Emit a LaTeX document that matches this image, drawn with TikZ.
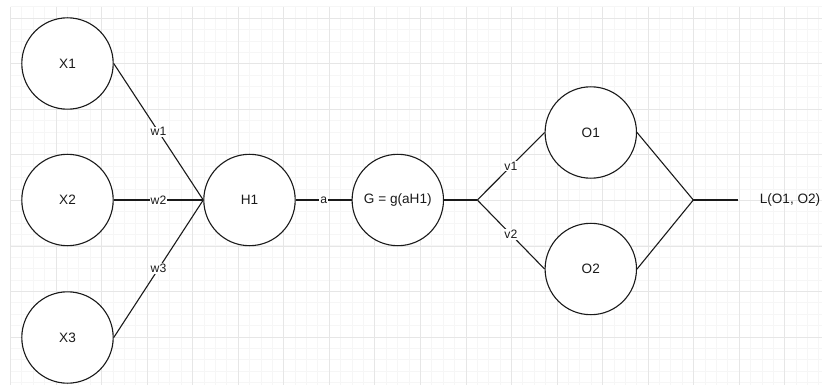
\documentclass[tikz,border=0pt]{standalone}
\usepackage{fontspec}
\setmainfont{Liberation Sans}
\definecolor{gridminor}{HTML}{F6F6F6}
\definecolor{gridmajor}{HTML}{E6E6E6}
\definecolor{ink}{HTML}{1A1A1A}
\tikzset{
  minorline/.style={draw=gridminor, line width=1pt},
  majorline/.style={draw=gridmajor, line width=1pt},
  neuron/.style={circle, draw=ink, fill=white, line width=1.1pt, minimum size=91.4pt, inner sep=0pt,
    text=ink, font=\fontsize{13.6}{16}\selectfont},
  conn/.style={draw=ink, line width=1.1pt},
  lbl/.style={midway, fill=white, inner sep=1pt, text=ink, font=\fontsize{12.2}{14}\selectfont},
  plain/.style={text=ink, inner sep=0pt, font=\fontsize{13.6}{16}\selectfont}
}
\begin{document}
\begin{tikzpicture}[x=1pt,y=-1pt]
\useasboundingbox (0,0) rectangle (822,385);
\fill[white] (0,0) rectangle (822,385);
\begin{scope}
\clip (10,6.5) rectangle (822,385);
\foreach \i in {0,...,71} { \draw[minorline] ({10.6+11.385*\i},6.9) -- ({10.6+11.385*\i},385); }
\foreach \j in {0,...,33} { \draw[minorline] (10.6,{6.9+11.385*\j}) -- (822,{6.9+11.385*\j}); }
\foreach \i in {0,...,17} { \draw[majorline] ({10.6+45.54*\i},6.9) -- ({10.6+45.54*\i},385); }
\foreach \j in {0,...,7} { \draw[majorline] (10.6,{18.3+45.54*\j}) -- (822,{18.3+45.54*\j}); }
\end{scope}

\node[neuron] (x1) at (67.5,63.5) {X1};
\node[neuron] (x2) at (67.5,200) {X2};
\node[neuron] (x3) at (67.5,337.5) {X3};
\node[neuron] (h1) at (249.5,200) {H1};
\node[neuron] (g) at (397.8,200) {G = g(aH1)};
\node[neuron] (o1) at (590.8,132.5) {O1};
\node[neuron] (o2) at (590.8,269) {O2};
\coordinate (s) at (477.3,200);
\coordinate (m) at (693.3,200);
\coordinate (e) at (738.3,200);
\node[plain] (L) at (790,200) {L(O1, O2)};

\draw[conn] (x1.east) -- node[lbl] {w1} (h1.west);
\draw[conn] (x2.east) -- node[lbl] {w2} (h1.west);
\draw[conn] (x3.east) -- node[lbl] {w3} (h1.west);
\draw[conn] (h1.east) -- node[lbl] {a} (g.west);
\draw[conn] (g.east) -- (s);
\draw[conn] (s) -- node[lbl] {v1} (o1.west);
\draw[conn] (s) -- node[lbl] {v2} (o2.west);
\draw[conn] (o1.east) -- (m);
\draw[conn] (o2.east) -- (m);
\draw[conn] (m) -- (e);
\end{tikzpicture}
\end{document}
